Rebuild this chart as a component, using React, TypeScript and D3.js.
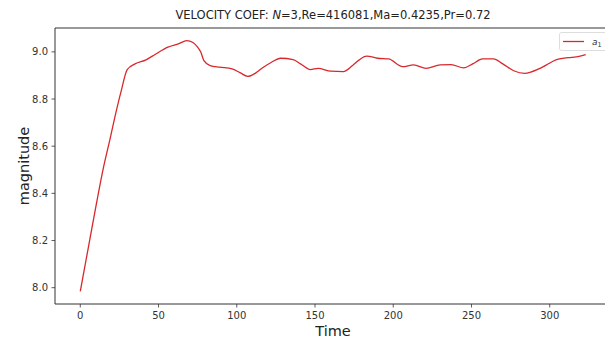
import React from "react";
import * as d3 from "d3";

const timeValues = [0, 5, 10, 15, 19, 22, 26, 30, 35, 42, 48, 56, 63, 68, 72, 75, 77, 79, 83, 89, 97, 102, 107, 112, 117, 122, 128, 136, 141, 147, 152, 160, 168, 174, 178, 183, 190, 197, 206, 213, 221, 230, 237, 245, 251, 257, 264, 270, 277, 284, 293, 298, 304, 314, 318, 323];
const a1Values = [7.984, 8.165, 8.345, 8.515, 8.63, 8.72, 8.83, 8.925, 8.949, 8.966, 8.99, 9.02, 9.035, 9.048, 9.04, 9.02, 8.999, 8.963, 8.942, 8.935, 8.928, 8.912, 8.896, 8.91, 8.935, 8.955, 8.973, 8.967, 8.948, 8.925, 8.93, 8.918, 8.916, 8.942, 8.965, 8.982, 8.973, 8.97, 8.937, 8.945, 8.93, 8.945, 8.946, 8.932, 8.95, 8.97, 8.97, 8.949, 8.92, 8.909, 8.928, 8.945, 8.966, 8.977, 8.98, 8.988];
const xTicks = [0, 50, 100, 150, 200, 250, 300];
const yTicks = [8.0, 8.2, 8.4, 8.6, 8.8, 9.0];
const titleParts = ["VELOCITY COEF: ", "N", "=3,Re=416081,Ma=0.4235,Pr=0.72"];
const seriesName = "a";

export default function App() {
  const W = 605, H = 340;
  const left = 55, right = 611, top = 28, bottom = 304;
  const tMin = d3.min(timeValues)!, tMax = d3.max(timeValues)!;
  const vMin = d3.min(a1Values)!, vMax = d3.max(a1Values)!;
  const tPad = (tMax - tMin) * 0.05, vPad = (vMax - vMin) * 0.05;
  const x = d3.scaleLinear().domain([tMin - tPad, tMax + tPad]).range([left, right]);
  const y = d3.scaleLinear().domain([vMin - vPad, vMax + vPad]).range([bottom, top]);
  const data = timeValues.map((t, i) => [t, a1Values[i]] as [number, number]);
  const line = d3.line<[number, number]>().x(d => x(d[0])).y(d => y(d[1])).curve(d3.curveMonotoneX);
  const axisColor = "#333";
  const font = "DejaVu Sans";
  const lineColor = "#d8282c";

  return (
    <svg width={W} height={H} style={{ position: "absolute", left: 0, top: 0, background: "#fff" }} fontFamily={font}>
      <rect x={0} y={0} width={W} height={H} fill="#fff" />
      <path d={line(data) || ""} fill="none" stroke={lineColor} strokeWidth={1.3} />
      <line x1={left} x2={left} y1={top} y2={bottom} stroke={axisColor} strokeWidth={1} />
      <line x1={left} x2={W} y1={bottom} y2={bottom} stroke={axisColor} strokeWidth={1} />
      <line x1={left} x2={W} y1={top} y2={top} stroke={axisColor} strokeWidth={1} />
      {xTicks.map(t => (
        <g key={"x" + t}>
          <line x1={x(t)} x2={x(t)} y1={bottom} y2={bottom + 3.5} stroke={axisColor} strokeWidth={0.8} />
          <text x={x(t)} y={bottom + 15} textAnchor="middle" fontSize={10} fill={axisColor}>{t}</text>
        </g>
      ))}
      {yTicks.map(v => (
        <g key={"y" + v}>
          <line x1={left - 3.5} x2={left} y1={y(v)} y2={y(v)} stroke={axisColor} strokeWidth={0.8} />
          <text x={left - 7} y={y(v) + 3.5} textAnchor="end" fontSize={10} fill={axisColor}>{v.toFixed(1)}</text>
        </g>
      ))}
      <text x={(left + right) / 2} y={19} textAnchor="middle" fontSize={11.5} fill="#222">
        {titleParts[0]}<tspan fontStyle="italic">{titleParts[1]}</tspan>{titleParts[2]}
      </text>
      <text x={(left + right) / 2} y={336} textAnchor="middle" fontSize={14.5} fill="#222">Time</text>
      <text transform={`translate(29,${(top + bottom) / 2}) rotate(-90)`} textAnchor="middle" fontSize={14.5} fill="#222">magnitude</text>
      <rect x={559.5} y={32.5} width={60} height={18} rx={2} fill="#fff" stroke="#ddd" strokeWidth={1} />
      <line x1={563} x2={584} y1={41.5} y2={41.5} stroke={lineColor} strokeWidth={1.3} />
      <text x={592} y={45} fontSize={9} fill="#333">
        <tspan fontStyle="italic">{seriesName}</tspan><tspan fontSize={6.5} dy={2}>1</tspan>
      </text>
    </svg>
  );
}
